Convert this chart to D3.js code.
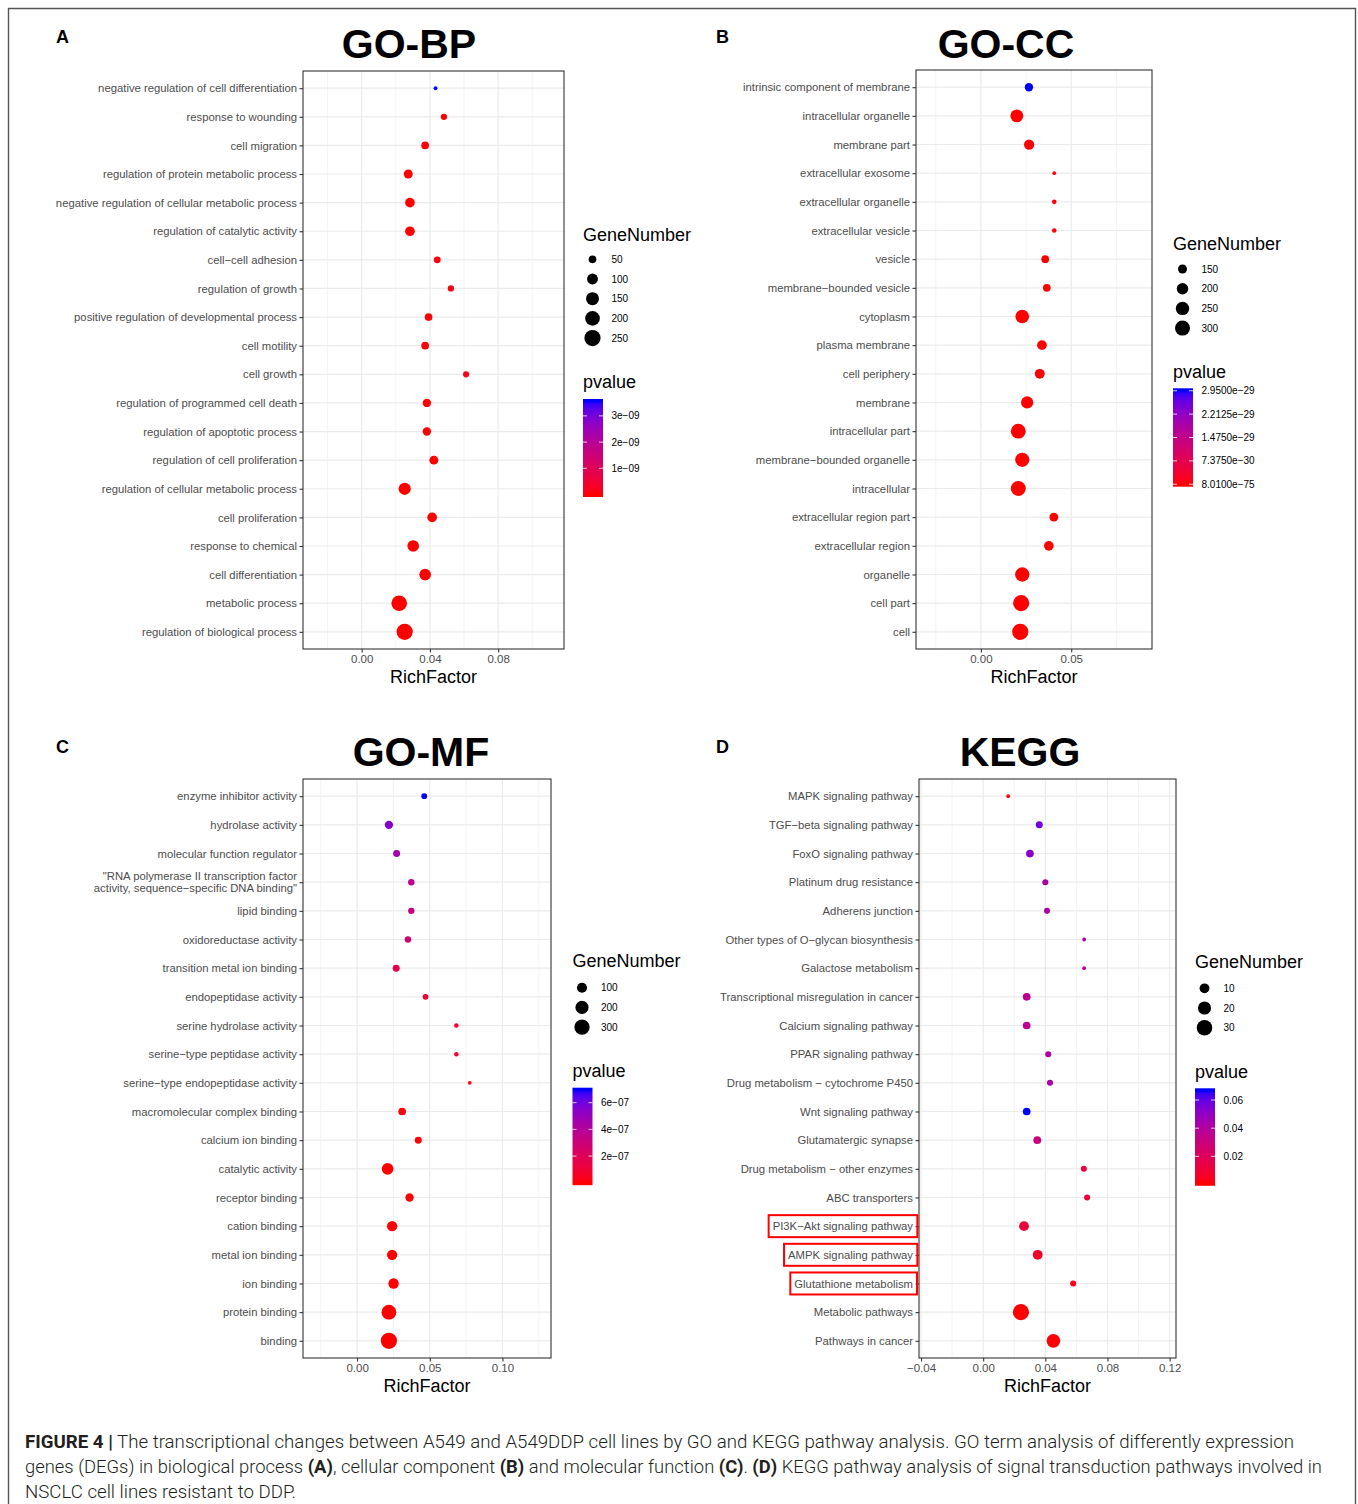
<!DOCTYPE html>
<html>
<head>
<meta charset="utf-8">
<script src="https://cdn.jsdelivr.net/npm/d3@7"></script>
<style>
  body { margin: 0; background: #fff; }
  svg text { font-family: "Liberation Sans", Arial, Helvetica, sans-serif; }
</style>
</head>
<body>
<svg id="fig" width="1358" height="1504"></svg>
<script>
//// GO / KEGG enrichment bubble charts ////

// ---- GO-BP ----
var bpTerms = ["negative regulation of cell differentiation", "response to wounding", "cell migration",
  "regulation of protein metabolic process", "negative regulation of cellular metabolic process",
  "regulation of catalytic activity", "cell−cell adhesion", "regulation of growth",
  "positive regulation of developmental process", "cell motility", "cell growth",
  "regulation of programmed cell death", "regulation of apoptotic process", "regulation of cell proliferation",
  "regulation of cellular metabolic process", "cell proliferation", "response to chemical",
  "cell differentiation", "metabolic process", "regulation of biological process"];
var bpRich = [0.0433, 0.0482, 0.0372, 0.0273, 0.0283, 0.0283, 0.0443, 0.0523, 0.0392, 0.0372,
  0.0612, 0.0382, 0.0382, 0.0423, 0.0252, 0.0413, 0.0302, 0.0372, 0.0220, 0.0252];
var bpGenes = [28, 37, 50, 66, 78, 78, 42, 37, 50, 50, 36, 58, 58, 66, 131, 78, 117, 117, 229, 250];
var bpPvalue = [3.55e-9, 2.1e-11, 4.6e-11, 1.2e-12, 3.4e-13, 5.1e-12, 8.7e-11, 6.3e-11, 2.8e-11, 9.4e-11,
  1.5e-10, 3.9e-12, 2.7e-12, 7.2e-12, 8.8e-16, 4.4e-13, 1.9e-15, 6.6e-14, 2.3e-18, 4.1e-20];
var bpXTicks = [0, 0.04, 0.08];
var bpXMinor = [-0.02, 0.02, 0.06, 0.10];
var bpSizeBreaks = [50, 100, 150, 200, 250];
var bpPBreaks = [1e-9, 2e-9, 3e-9];
var bpPLabels = ["1e−09", "2e−09", "3e−09"];

// ---- GO-CC ----
var ccTerms = ["intrinsic component of membrane", "intracellular organelle", "membrane part",
  "extracellular exosome", "extracellular organelle", "extracellular vesicle", "vesicle",
  "membrane−bounded vesicle", "cytoplasm", "plasma membrane", "cell periphery", "membrane",
  "intracellular part", "membrane−bounded organelle", "intracellular", "extracellular region part",
  "extracellular region", "organelle", "cell part", "cell"];
var ccRich = [0.0266, 0.0199, 0.0267, 0.0406, 0.0406, 0.0406, 0.0356, 0.0365, 0.0229, 0.0338,
  0.0326, 0.0256, 0.0207, 0.0229, 0.0207, 0.0404, 0.0376, 0.0229, 0.0223, 0.0218];
var ccGenes = [140, 234, 173, 108, 109, 109, 132, 132, 257, 162, 165, 218, 295, 276, 298, 148, 162, 280, 340, 345];
var ccPvalue = [2.95e-29, 3.2e-45, 1.1e-33, 6.4e-31, 7.7e-31, 8.2e-31, 5.5e-32, 4.9e-32, 2.6e-50, 9.1e-35,
  1.8e-35, 4.3e-40, 7.6e-60, 5.2e-55, 1.4e-62, 2.2e-38, 3.9e-37, 6.8e-58, 2.7e-70, 8.01e-75];
var ccXTicks = [0, 0.05];
var ccXMinor = [-0.025, 0.025, 0.075];
var ccSizeBreaks = [150, 200, 250, 300];
var ccPBreaks = [8.01e-75, 7.375e-30, 1.475e-29, 2.2125e-29, 2.95e-29];
var ccPLabels = ["8.0100e−75", "7.3750e−30", "1.4750e−29", "2.2125e−29", "2.9500e−29"];

// ---- GO-MF ----
var mfTerms = ["enzyme inhibitor activity", "hydrolase activity", "molecular function regulator",
  "\"RNA polymerase II transcription factor\nactivity, sequence−specific DNA binding\"",
  "lipid binding", "oxidoreductase activity", "transition metal ion binding", "endopeptidase activity",
  "serine hydrolase activity", "serine−type peptidase activity", "serine−type endopeptidase activity",
  "macromolecular complex binding", "calcium ion binding", "catalytic activity", "receptor binding",
  "cation binding", "metal ion binding", "ion binding", "protein binding", "binding"];
var mfRich = [0.0462, 0.0219, 0.0272, 0.0373, 0.0373, 0.0350, 0.0269, 0.0471, 0.0683, 0.0683,
  0.0775, 0.0310, 0.0421, 0.0210, 0.0361, 0.0241, 0.0241, 0.0251, 0.0219, 0.0219];
var mfGenes = [26, 61, 39, 32, 32, 32, 39, 26, 19, 19, 18, 50, 39, 148, 61, 106, 106, 110, 272, 340];
var mfPvalue = [6.94e-7, 5.5e-7, 4.5e-7, 3.6e-7, 3.3e-7, 2.7e-7, 1.8e-7, 1.1e-7, 7.0e-8, 7.2e-8,
  4.0e-8, 1.5e-8, 1.0e-8, 2.1e-10, 4.8e-9, 3.3e-10, 5.6e-10, 8.1e-11, 1.2e-12, 3.4e-13];
var mfXTicks = [0, 0.05, 0.10];
var mfXMinor = [-0.025, 0.025, 0.075, 0.125];
var mfSizeBreaks = [100, 200, 300];
var mfPBreaks = [2e-7, 4e-7, 6e-7];
var mfPLabels = ["2e−07", "4e−07", "6e−07"];

// ---- KEGG ----
var keggTerms = ["MAPK signaling pathway", "TGF−beta signaling pathway", "FoxO signaling pathway",
  "Platinum drug resistance", "Adherens junction", "Other types of O−glycan biosynthesis",
  "Galactose metabolism", "Transcriptional misregulation in cancer", "Calcium signaling pathway",
  "PPAR signaling pathway", "Drug metabolism − cytochrome P450", "Wnt signaling pathway",
  "Glutamatergic synapse", "Drug metabolism − other enzymes", "ABC transporters",
  "PI3K−Akt signaling pathway", "AMPK signaling pathway", "Glutathione metabolism",
  "Metabolic pathways", "Pathways in cancer"];
var keggRich = [0.0161, 0.0361, 0.0301, 0.0400, 0.0411, 0.0650, 0.0650, 0.0280, 0.0280, 0.0419,
  0.0430, 0.0280, 0.0348, 0.0648, 0.0669, 0.0263, 0.0351, 0.0579, 0.0243, 0.0452];
var keggGenes = [3, 5, 6, 4, 4, 3, 3, 6, 6, 4, 4, 6, 6, 4, 4, 10, 10, 4, 33, 22];
var keggPvalue = [0.0012, 0.057, 0.051, 0.043, 0.042, 0.039, 0.039, 0.036, 0.036, 0.041,
  0.041, 0.0666, 0.030, 0.013, 0.012, 0.012, 0.006, 0.004, 0.0008, 0.0015];
var keggXTicks = [-0.04, 0, 0.04, 0.08, 0.12];
var keggXMinor = [-0.02, 0.02, 0.06, 0.10];
var keggSizeBreaks = [10, 20, 30];
var keggPBreaks = [0.02, 0.04, 0.06];
var keggPLabels = ["0.02", "0.04", "0.06"];
var keggBoxed = ["PI3K−Akt signaling pathway", "AMPK signaling pathway", "Glutathione metabolism"];

// layout of the four panels
var panels = [
  { letter: "A", letterX: 56, letterY: 43, title: "GO-BP", titleX: 409, titleY: 58,
    terms: bpTerms, rich: bpRich, genes: bpGenes, pval: bpPvalue, xTicks: bpXTicks, xMinor: bpXMinor,
    sizeBreaks: bpSizeBreaks, pBreaks: bpPBreaks, pLabels: bpPLabels, boxed: [],
    x0: 303, x1: 564, y0: 71, y1: 649, xDomain: [-0.0344, 0.1186],
    legX: 583, legTitleY: 240.7, keyY0: 259.3, pTitleY: 388, barTop: 399, barH: 98 },
  { letter: "B", letterX: 716, letterY: 43, title: "GO-CC", titleX: 1006, titleY: 58,
    terms: ccTerms, rich: ccRich, genes: ccGenes, pval: ccPvalue, xTicks: ccXTicks, xMinor: ccXMinor,
    sizeBreaks: ccSizeBreaks, pBreaks: ccPBreaks, pLabels: ccPLabels, boxed: [],
    x0: 916, x1: 1152, y0: 70, y1: 649, xDomain: [-0.0359, 0.0947],
    legX: 1173, legTitleY: 250, keyY0: 269, pTitleY: 378, barTop: 388.3, barH: 98.4 },
  { letter: "C", letterX: 56, letterY: 753, title: "GO-MF", titleX: 421, titleY: 766,
    terms: mfTerms, rich: mfRich, genes: mfGenes, pval: mfPvalue, xTicks: mfXTicks, xMinor: mfXMinor,
    sizeBreaks: mfSizeBreaks, pBreaks: mfPBreaks, pLabels: mfPLabels, boxed: [],
    x0: 303, x1: 551, y0: 779, y1: 1358, xDomain: [-0.0372, 0.1334],
    legX: 572.5, legTitleY: 967, keyY0: 987.7, pTitleY: 1077, barTop: 1087.7, barH: 97.5 },
  { letter: "D", letterX: 716, letterY: 753, title: "KEGG", titleX: 1020, titleY: 766,
    terms: keggTerms, rich: keggRich, genes: keggGenes, pval: keggPvalue, xTicks: keggXTicks, xMinor: keggXMinor,
    sizeBreaks: keggSizeBreaks, pBreaks: keggPBreaks, pLabels: keggPLabels, boxed: keggBoxed,
    x0: 919, x1: 1176, y0: 779, y1: 1358, xDomain: [-0.0413, 0.1241],
    legX: 1195, legTitleY: 968, keyY0: 988.3, pTitleY: 1078, barTop: 1088.3, barH: 97.5 }
];

var svg = d3.select("#fig");
var defs = svg.append("defs");

// outer frame (open at the bottom)
svg.append("path")
  .attr("d", "M8.5,1504 L8.5,8.5 L1355.5,8.5 L1355.5,1504")
  .attr("fill", "none").attr("stroke", "#555").attr("stroke-width", 1.4);

// ggplot-like area size scale: radius grows with sqrt of rescaled value
function makeSize(genes) {
  var t = d3.scaleLinear().domain(d3.extent(genes)).range([0, 1]);
  return function (v) { return 1.9 + 6.2 * Math.sqrt(Math.max(0, t(v))); };
}

function drawPanel(p, idx) {
  var g = svg.append("g");
  var x = d3.scaleLinear().domain(p.xDomain).range([p.x0, p.x1]);
  var y = d3.scalePoint().domain(p.terms).range([p.y0, p.y1]).padding(0.6);
  var size = makeSize(p.genes);
  var color = d3.scaleLinear().domain(d3.extent(p.pval)).range(["red", "blue"])
    .interpolate(d3.interpolateLab).clamp(true);

  // grid lines
  g.selectAll(".minor").data(p.xMinor).enter().append("line")
    .attr("x1", function (d) { return x(d); }).attr("x2", function (d) { return x(d); })
    .attr("y1", p.y0).attr("y2", p.y1)
    .attr("stroke", "#ebebeb").attr("stroke-width", 0.6);
  g.selectAll(".majorx").data(p.xTicks).enter().append("line")
    .attr("x1", function (d) { return x(d); }).attr("x2", function (d) { return x(d); })
    .attr("y1", p.y0).attr("y2", p.y1)
    .attr("stroke", "#ebebeb").attr("stroke-width", 1.2);
  g.selectAll(".majory").data(p.terms).enter().append("line")
    .attr("x1", p.x0).attr("x2", p.x1)
    .attr("y1", function (d) { return y(d); }).attr("y2", function (d) { return y(d); })
    .attr("stroke", "#ebebeb").attr("stroke-width", 1.2);

  // points
  var rows = p.terms.map(function (t, i) {
    return { term: t, rich: p.rich[i], genes: p.genes[i], pval: p.pval[i] };
  });
  g.selectAll(".pt").data(rows).enter().append("circle")
    .attr("class", "pt")
    .attr("cx", function (d) { return x(d.rich); })
    .attr("cy", function (d) { return y(d.term); })
    .attr("r", function (d) { return size(d.genes); })
    .attr("fill", function (d) { return color(d.pval); });

  // panel border
  g.append("rect")
    .attr("x", p.x0).attr("y", p.y0).attr("width", p.x1 - p.x0).attr("height", p.y1 - p.y0)
    .attr("fill", "none").attr("stroke", "#333").attr("stroke-width", 1.1);

  // x axis
  var xa = g.append("g")
    .attr("transform", "translate(0," + p.y1 + ")")
    .call(d3.axisBottom(x).tickValues(p.xTicks).tickFormat(d3.format(".2f")).tickSize(3.5).tickPadding(2.5));
  xa.select(".domain").remove();
  xa.selectAll("line").attr("stroke", "#333").attr("stroke-width", 1.1);
  xa.selectAll("text").attr("fill", "#4d4d4d").style("font-size", "11.5px");

  // y axis
  var ya = g.append("g")
    .attr("transform", "translate(" + p.x0 + ",0)")
    .call(d3.axisLeft(y).tickSize(3.5).tickPadding(2.5));
  ya.select(".domain").remove();
  ya.selectAll("line").attr("stroke", "#333").attr("stroke-width", 1.1);
  ya.selectAll("text").attr("fill", "#4d4d4d").style("font-size", "11.3px");
  ya.selectAll(".tick text").each(function (d) {
    var lines = d.split("\n");
    if (lines.length < 2) return;
    var t = d3.select(this);
    t.text(null).attr("dy", null);
    lines.forEach(function (l, i) {
      t.append("tspan").attr("x", -6).attr("dy", i === 0 ? "-0.21em" : "1.06em").text(l);
    });
  });

  // red boxes around highlighted labels
  ya.selectAll(".tick").each(function (d) {
    if (p.boxed.indexOf(d) < 0) return;
    var bb = d3.select(this).select("text").node().getBBox();
    g.append("rect")
      .attr("x", p.x0 + bb.x - 4).attr("y", y(d) - 11)
      .attr("width", bb.width + 8).attr("height", 22)
      .attr("fill", "none").attr("stroke", "#ff0000").attr("stroke-width", 2);
  });

  // axis title
  g.append("text")
    .attr("x", (p.x0 + p.x1) / 2).attr("y", p.y1 + 34)
    .attr("text-anchor", "middle").style("font-size", "18px").attr("fill", "#000")
    .text("RichFactor");

  // panel title and letter
  svg.append("text")
    .attr("x", p.titleX).attr("y", p.titleY).attr("text-anchor", "middle")
    .style("font-size", "41px").style("font-weight", "bold").text(p.title);
  svg.append("text")
    .attr("x", p.letterX).attr("y", p.letterY)
    .style("font-size", "18px").style("font-weight", "bold").text(p.letter);

  // size legend
  g.append("text").attr("x", p.legX).attr("y", p.legTitleY)
    .style("font-size", "18px").text("GeneNumber");
  var keys = g.selectAll(".key").data(p.sizeBreaks).enter().append("g")
    .attr("transform", function (d, i) { return "translate(0," + (p.keyY0 + i * 19.7) + ")"; });
  keys.append("circle").attr("cx", p.legX + 9.5).attr("cy", 0)
    .attr("r", function (d) { return size(d); }).attr("fill", "#000");
  keys.append("text").attr("x", p.legX + 28.5).attr("y", 0).attr("dy", "0.35em")
    .style("font-size", "10px").text(function (d) { return d; });

  // colour bar legend
  g.append("text").attr("x", p.legX).attr("y", p.pTitleY)
    .style("font-size", "18px").text("pvalue");
  var inset = p.barH / 40;
  var yb = d3.scaleLinear().domain(d3.extent(p.pval))
    .range([p.barTop + p.barH - inset, p.barTop + inset]);
  var gid = "grad" + idx;
  var grad = defs.append("linearGradient").attr("id", gid)
    .attr("x1", 0).attr("y1", 0).attr("x2", 0).attr("y2", 1);
  d3.range(0, 41).forEach(function (i) {
    var yy = p.barTop + i / 40 * p.barH;
    grad.append("stop").attr("offset", i / 40).attr("stop-color", color(yb.invert(yy)));
  });
  g.append("rect").attr("x", p.legX).attr("y", p.barTop)
    .attr("width", 20).attr("height", p.barH).attr("fill", "url(#" + gid + ")");
  p.pBreaks.forEach(function (b, i) {
    var yy = yb(b);
    g.append("line").attr("x1", p.legX).attr("x2", p.legX + 4).attr("y1", yy).attr("y2", yy)
      .attr("stroke", "#fff").attr("stroke-width", 0.8);
    g.append("line").attr("x1", p.legX + 16).attr("x2", p.legX + 20).attr("y1", yy).attr("y2", yy)
      .attr("stroke", "#fff").attr("stroke-width", 0.8);
    g.append("text").attr("x", p.legX + 28.5).attr("y", yy).attr("dy", "0.35em")
      .style("font-size", "10px").text(p.pLabels[i]);
  });
}

panels.forEach(drawPanel);

// caption
var captionLines = [
  [["FIGURE 4 |", true], [" The transcriptional changes between A549 and A549DDP cell lines by GO and KEGG pathway analysis. GO term analysis of differently expression", false]],
  [["genes (DEGs) in biological process ", false], ["(A)", true], [", cellular component ", false], ["(B)", true],
   [" and molecular function ", false], ["(C)", true], [". ", false], ["(D)", true],
   [" KEGG pathway analysis of signal transduction pathways involved in", false]],
  [["NSCLC cell lines resistant to DDP.", false]]
];
var captionWidths = [1269, 1297, 271];
captionLines.forEach(function (parts, i) {
  var t = svg.append("text").attr("x", 25).attr("y", 1448 + i * 25)
    .style("font-size", "18px").attr("fill", "#231f20")
    .style("font-family", "Roboto, \"Liberation Sans\", sans-serif");
  parts.forEach(function (pt) {
    t.append("tspan").style("font-weight", pt[1] ? "bold" : "300").text(pt[0]);
  });
  t.attr("textLength", captionWidths[i]).attr("lengthAdjust", "spacingAndGlyphs");
});
</script>
</body>
</html>
